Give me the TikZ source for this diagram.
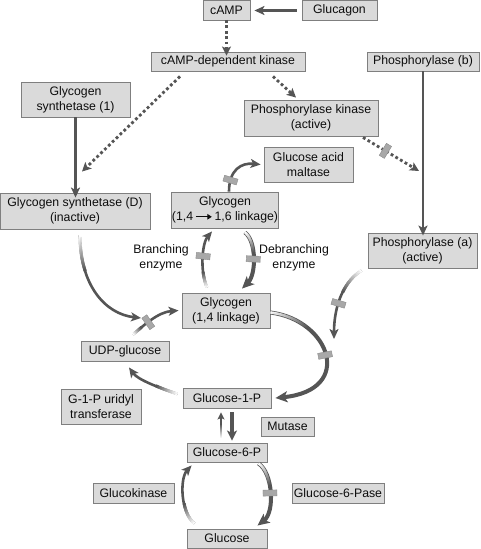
\documentclass[tikz,border=0pt]{standalone}
\usepackage{fontspec}
\setmainfont{Liberation Sans}
\usetikzlibrary{arrows.meta,decorations.markings}
\definecolor{boxfill}{HTML}{DADADA}
\definecolor{boxline}{HTML}{7F7F7F}
\definecolor{arr}{HTML}{555555}
\definecolor{barfill}{HTML}{A8A8A8}
\definecolor{barline}{HTML}{8C8C8C}
\tikzset{
 box/.style={draw=boxline, fill=boxfill, line width=0.9pt, align=center, inner sep=0pt,
   font=\fontsize{12.3}{15}\selectfont, text=black!95},
 lbl/.style={align=center, inner sep=0pt, font=\fontsize{12.3}{15}\selectfont, text=black!95},
 flow/.style={draw=arr, line width=2.6pt, -{Stealth[length=10pt,width=9pt,inset=2.5pt]}},
 heavy/.style={draw=arr, line width=4pt, -{Stealth[length=12pt,width=11pt,inset=3pt]}},
 dots/.style={draw=arr, line width=2.8pt, dash pattern=on 2.8pt off 2.6pt,
   -{Stealth[length=9pt,width=9pt,inset=2pt]}},
 barr/.style={solid, fill=barfill, draw=barline, line width=0.4pt, minimum width=6pt,
   minimum height=14pt, inner sep=0pt, sloped},
 fadeout/.style 2 args={postaction={decorate, decoration={markings,
   mark=between positions 0pt and #1 step 1pt with {
     \pgfmathtruncatemacro\fadepct{min(100,100*(\pgfkeysvalueof{/pgf/decoration/mark info/distance from start})/(#1))}
     \fill[draw=none, fill=arr!\fadepct!white] (-0.05pt,-#2) rectangle (1.3pt,#2);}}}}
}
\begin{document}
\begin{tikzpicture}[x=1pt,y=-1pt]
\useasboundingbox (0,0) rectangle (480,549);

% nodes
\node[box, minimum width=47pt, minimum height=20pt] (camp) at (226.5,10.5) {cAMP};
\node[box, minimum width=75pt, minimum height=20pt] (glucagon) at (339.5,10.5) {Glucagon};
\node[box, minimum width=154pt, minimum height=19pt] (kinase) at (228,61.5) {cAMP-dependent kinase};
\node[box, minimum width=112pt, minimum height=19pt] (phosb) at (423,61.5) {Phosphorylase (b)};
\node[box, minimum width=109pt, minimum height=35pt] (gs1) at (75.5,99.5) {Glycogen\\synthetase (1)};
\node[box, minimum width=134pt, minimum height=36pt] (phk) at (311,118) {Phosphorylase kinase\\(active)};
\node[box, minimum width=89pt, minimum height=35pt] (gam) at (308.5,164.5) {Glucose acid\\maltase};
\node[box, minimum width=150pt, minimum height=36pt] (gsd) at (75,211) {Glycogen synthetase (D)\\(inactive)};
\node[box, minimum width=106pt, minimum height=36pt] (g16) at (225,210) {Glycogen\\(1,4\,\tikz[baseline=-0.6ex]\draw[line width=1.3pt,-{Triangle[length=4.5pt,width=5.5pt]}] (0pt,0pt)--(16pt,0pt);\,1,6 linkage)};
\node[box, minimum width=109pt, minimum height=35pt] (phosa) at (422.5,250.5) {Phosphorylase (a)\\(active)};
\node[lbl] (branch) at (161,258) {Branching\\enzyme};
\node[lbl] (debranch) at (294,258) {Debranching\\enzyme};
\node[box, minimum width=88pt, minimum height=35pt] (g14) at (226,310.5) {Glycogen\\(1,4 linkage)};
\node[box, minimum width=88pt, minimum height=20pt] (udp) at (125,351) {UDP-glucose};
\node[box, minimum width=88pt, minimum height=20pt] (g1p) at (227,398) {Glucose-1-P};
\node[box, minimum width=80pt, minimum height=35pt] (g1put) at (101,406.5) {G-1-P uridyl\\transferase};
\node[box, minimum width=53pt, minimum height=19pt] (mutase) at (287.5,426.5) {Mutase};
\node[box, minimum width=80pt, minimum height=19pt] (g6p) at (227,452.5) {Glucose-6-P};
\node[box, minimum width=81pt, minimum height=20pt] (gk) at (133.5,493) {Glucokinase};
\node[box, minimum width=92pt, minimum height=20pt] (g6pase) at (338,493) {Glucose-6-Pase};
\node[box, minimum width=80pt, minimum height=19pt] (glucose) at (227,538.5) {Glucose};

% junction coordinates (free ends)
\coordinate (jn0) at (419,171);
\coordinate (jn1) at (141,318);
\coordinate (jn2) at (334,339);

% top signalling
\draw[flow] ([xshift=-5]glucagon.west) -- ([xshift=4]camp.east);
\draw[dots] ([yshift=1]camp.south) -- ([yshift=-4]camp.south |- kinase.north);
\draw[dots] ([shift={(-48,5)}]kinase.south) -- ([shift={(7,-21)}]gsd.north);
\draw[dots] ([shift={(45,5)}]kinase.south) -- ([shift={(-15,-2)}]phk.north);
\draw[dots] ([shift={(52,1)}]phk.south) -- (jn0) node[barr, pos=0.4] {};
\draw[flow] (gs1.south) -- ([yshift=-5]gs1.south |- gsd.north);
\draw[flow] (phosb.south) -- ([yshift=-3]phosb.south |- phosa.north);

% glycogen area
\draw[flow] ([xshift=4]g16.north) .. controls +(0,-22) and +(-19,-2) .. ([xshift=-3]gam.west)
  node[barr, pos=0.2] {};
\draw[flow, fadeout={15pt}{1.5pt}] ([shift={(-19,-5)}]g14.north) .. controls (199,268) and (203,242) .. ([shift={(-13,3)}]g16.south)
  node[barr, pos=0.5] {};
\draw[heavy, fadeout={22pt}{1.2pt}] ([shift={(20,4)}]g16.south) .. controls (257,242) and (256,275) .. ([shift={(16,-4)}]g14.north)
  node[barr, pos=0.5] {};
\draw[heavy, fadeout={40pt}{1.2pt}] ([yshift=-2]g14.east) .. controls (330,320) and (355,390) .. ([xshift=4]g1p.east)
  node[barr, pos=0.5] {};
\draw[flow, fadeout={28pt}{1.5pt}] ([shift={(-6,2)}]phosa.south west) .. controls (340,284) and (334,312) .. (jn2)
  node[barr, pos=0.55] {};
\draw[flow, fadeout={35pt}{1.5pt}] ([shift={(5,6)}]gsd.south) .. controls (80,285) and (105,314) .. (jn1);
\draw[flow, fadeout={10pt}{1.5pt}] ([shift={(8,-6)}]udp.north) .. controls (143,326) and (158,312) .. ([xshift=-3]g14.west)
  node[barr, pos=0.42] {};
\draw[flow, fadeout={22pt}{1.5pt}] ([shift={(-5,-4)}]g1p.west) .. controls (160,388) and (138,380) .. ([shift={(4,6)}]udp.south);

% mutase
\draw[draw=arr, line width=1.8pt, -{Stealth[length=7pt,width=7pt,inset=1.5pt]}, fadeout={14pt}{1.1pt}]
  ([shift={(-6,-4)}]g6p.north) -- ([shift={(-6,4)}]g1p.south);
\draw[draw=arr, line width=3.2pt, -{Stealth[length=10pt,width=10pt,inset=2.5pt]}]
  ([shift={(5,4)}]g1p.south) -- ([shift={(5,-2)}]g6p.north);

% glucose cycle
\draw[heavy, fadeout={25pt}{1.2pt}] ([shift={(-9,1)}]g6p.south east) .. controls (273,473) and (275,512) .. ([shift={(-10,-3)}]glucose.north east)
  node[barr, pos=0.5] {};
\draw[flow, fadeout={22pt}{1.5pt}] ([shift={(8,-5)}]glucose.north west) .. controls (180,512) and (180,478) .. ([shift={(5,3)}]g6p.south west);

\end{tikzpicture}
\end{document}
